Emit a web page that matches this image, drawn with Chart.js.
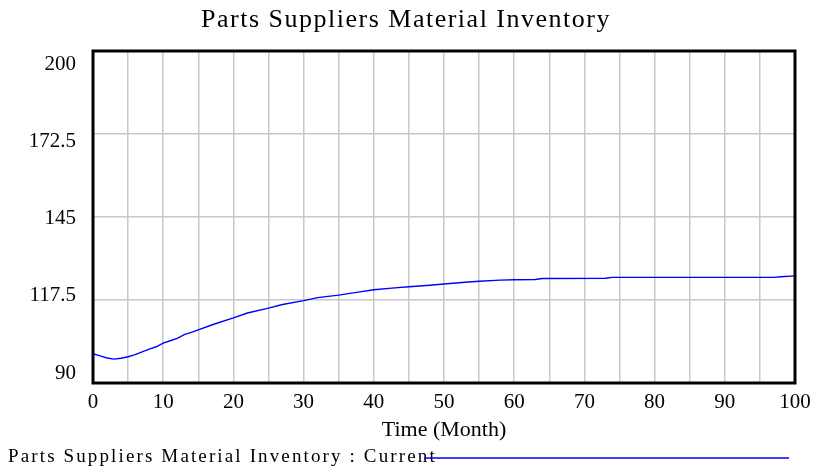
<!DOCTYPE html>
<html lang="en">
<head>
    <meta charset="UTF-8">
    <title>Parts Suppliers Material Inventory</title>
    <script src="https://cdn.jsdelivr.net/npm/chart.js"></script>
    <style>
        body { margin: 0; background: #fff; }
        #wrap { width: 813px; height: 469px; }
    </style>
</head>
<body>
    <div id="wrap"><canvas id="inv"></canvas></div>
    <script>
        // months and inventory values
        const months = [0, 1, 2, 3, 4, 5, 6, 7, 8, 9, 10, 11, 12, 13, 14, 15, 17, 20, 22, 25, 27, 30, 32, 35, 38, 40,
                        43, 45, 48, 50, 53, 55, 58, 60, 63, 64, 73, 74, 97, 98, 100];
        const inventory = [99.7, 99.0, 98.3, 97.9, 98.2, 98.7, 99.4, 100.3, 101.2, 102.0, 103.2, 104.0, 104.8, 106.0,
                           106.8, 107.6, 109.3, 111.6, 113.2, 114.8, 116.0, 117.3, 118.3, 119.1, 120.2, 120.9,
                           121.5, 121.9, 122.4, 122.8, 123.4, 123.7, 124.1, 124.2, 124.3, 124.6, 124.7, 125.0,
                           125.0, 125.2, 125.5];
        const yTicks = [90, 117.5, 145, 172.5, 200];
        const xLabels = [0, 10, 20, 30, 40, 50, 60, 70, 80, 90, 100];
        const titleText = 'Parts Suppliers Material Inventory';
        const legendText = 'Parts Suppliers Material Inventory : Current';

        const serif = "'Liberation Serif', 'DejaVu Serif', serif";

        // title, black frame, y labels (Vensim-style spread) and the legend line
        const vensimBits = {
            id: 'vensimBits',
            afterDraw(chart) {
                const { ctx, chartArea: a } = chart;
                ctx.save();
                ctx.strokeStyle = '#000';
                ctx.lineWidth = 3;
                ctx.strokeRect(a.left, a.top, a.right - a.left, a.bottom - a.top);

                ctx.fillStyle = '#000';
                ctx.textBaseline = 'middle';

                // y labels sit a bit inside the frame at both ends
                const ys = chart.scales.y;
                ctx.font = '21px ' + serif;
                ctx.textAlign = 'right';
                yTicks.forEach(v => {
                    const py = ys.getPixelForValue(v);
                    const f = (py - a.top) / (a.bottom - a.top);
                    ctx.fillText(String(v), 76, py + 13 - 23 * f);
                });

                ctx.letterSpacing = '1.5px';
                ctx.font = '26px ' + serif;
                ctx.textAlign = 'center';
                ctx.fillText(titleText, 406, 20);

                // legend text spread so it ends just past the start of its line
                ctx.letterSpacing = '0px';
                ctx.font = '19px ' + serif;
                ctx.textAlign = 'left';
                const w0 = ctx.measureText(legendText).width;
                const sp = Math.max(0, (429 - w0) / legendText.length);
                ctx.letterSpacing = sp.toFixed(2) + 'px';
                ctx.fillText(legendText, 8, 457);
                ctx.letterSpacing = '0px';

                ctx.strokeStyle = '#0000ff';
                ctx.lineWidth = 1.5;
                ctx.beginPath();
                ctx.moveTo(424, 458);
                ctx.lineTo(789, 458);
                ctx.stroke();
                ctx.restore();
            }
        };

        new Chart(document.getElementById('inv'), {
            type: 'line',
            data: {
                datasets: [{
                    label: legendText,
                    data: months.map((m, i) => ({ x: m, y: inventory[i] })),
                    borderColor: '#0000ff',
                    borderWidth: 1.4,
                    pointRadius: 0,
                    tension: 0,
                    fill: false
                }]
            },
            options: {
                responsive: true,
                maintainAspectRatio: false,
                animation: false,
                layout: { padding: { left: 0, right: 18, top: 51, bottom: 24 } },
                plugins: {
                    legend: { display: false },
                    tooltip: { enabled: false },
                    title: { display: false }
                },
                scales: {
                    x: {
                        type: 'linear',
                        min: 0,
                        max: 100,
                        afterFit: s => { s.height = 62; s.paddingLeft = 0; s.paddingRight = 0; },
                        ticks: {
                            stepSize: 5,
                            autoSkip: false,
                            maxRotation: 0,
                            padding: 7,
                            color: '#000',
                            font: { family: serif, size: 21 },
                            callback: v => xLabels.includes(v) ? String(v) : ''
                        },
                        grid: { color: '#c8c8c8', lineWidth: 1.5, drawTicks: false },
                        border: { display: false },
                        title: {
                            display: true,
                            text: 'Time (Month)',
                            color: '#000',
                            font: { family: serif, size: 22 },
                            padding: { top: 0, bottom: 2 }
                        }
                    },
                    y: {
                        min: 90,
                        max: 200,
                        afterFit: s => { s.width = 93; },
                        afterBuildTicks: s => { s.ticks = yTicks.map(v => ({ value: v })); },
                        ticks: { display: false },
                        grid: { color: '#c8c8c8', lineWidth: 1.5, drawTicks: false },
                        border: { display: false }
                    }
                }
            },
            plugins: [vensimBits]
        });
    </script>
</body>
</html>
